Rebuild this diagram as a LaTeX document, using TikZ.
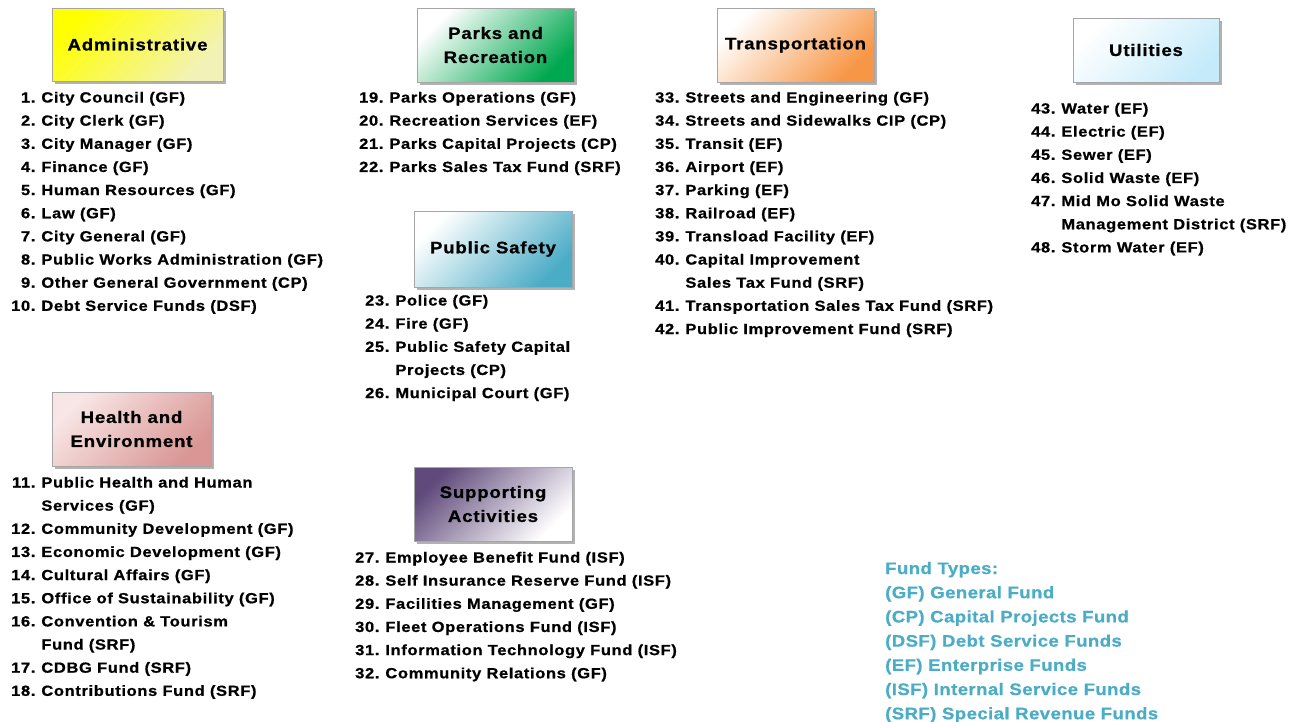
\documentclass[tikz,border=0pt]{standalone}
\usepackage{fontspec}
\setmainfont{Liberation Sans}
\newfontfamily\itemfam{Liberation Sans}[FakeStretch=1.12, LetterSpace=4.5, FakeBold=0.8]
\newfontfamily\hdrfam{Liberation Sans}[FakeStretch=1.12, LetterSpace=5, FakeBold=0.8]
\newfontfamily\fundfam{Liberation Sans}[FakeStretch=1.12, LetterSpace=2.5, FakeBold=0.6]
\usetikzlibrary{shadows}
\definecolor{bordergray}{HTML}{A6A6A6}
\definecolor{fundblue}{HTML}{4BACC6}
\definecolor{adminA}{HTML}{FFFF00}
\definecolor{adminB}{HTML}{F2F2B8}
\definecolor{parksB}{HTML}{00A84F}
\definecolor{transB}{HTML}{F79646}
\definecolor{utilB}{HTML}{C5EBFA}
\definecolor{safeB}{HTML}{4BACC6}
\definecolor{healthA}{HTML}{F8E6E6}
\definecolor{healthB}{HTML}{D99694}
\definecolor{suppA}{HTML}{604A7B}
\newcommand\itemfont{\itemfam\bfseries\fontsize{14.7}{23.15}\selectfont}
\newcommand\hdrfont{\hdrfam\bfseries\fontsize{16.6}{24}\selectfont}
\newcommand\fundfont{\fundfam\bfseries\fontsize{16.6}{24.2}\selectfont}
\newcommand\lst[1]{\begin{tabular}[t]{@{}r@{\hspace{6pt}}l@{}}#1\end{tabular}}
\tikzset{
  hdr/.style={draw=bordergray, line width=0.8pt, align=center, inner sep=0pt,
    font=\hdrfont, text=black,
    drop shadow={shadow xshift=3pt, shadow yshift=-3pt, fill=black, opacity=0.3}},
  grad/.style 2 args={top color=#1, bottom color=#2, shading angle=45},
  listnode/.style={anchor=base west, inner sep=0pt, font=\itemfont, text=black},
}
\begin{document}
\begin{tikzpicture}[x=1pt,y=-1pt]
\useasboundingbox[fill=white] (0,0) rectangle (1301,721);

% headers
\node[hdr, grad={adminA}{adminB}, minimum width=171pt, minimum height=73pt] (admin) at (137.5,44.5) {Administrative};
\node[hdr, grad={white}{parksB}, minimum width=157pt, minimum height=74pt] (parks) at (495.5,45) {Parks and\\Recreation};
\node[hdr, grad={white}{transB}, minimum width=157pt, minimum height=74pt] (trans) at (795.5,45) {Transportation};
\node[hdr, grad={white}{utilB}, minimum width=146pt, minimum height=64pt] (util) at (1146,50) {Utilities};
\node[hdr, grad={white}{safeB}, minimum width=158pt, minimum height=76pt] (safety) at (493,249) {Public Safety};
\node[hdr, grad={healthA}{healthB}, minimum width=159pt, minimum height=74pt] (health) at (131.5,429) {Health and\\Environment};
\node[hdr, grad={suppA}{white}, minimum width=158pt, minimum height=74pt] (supp) at (493,504) {Supporting\\Activities};

% lists
\node[listnode] (adminlist) at (11,102.5) {\lst{
1. & City Council (GF)\\
2. & City Clerk (GF)\\
3. & City Manager (GF)\\
4. & Finance (GF)\\
5. & Human Resources (GF)\\
6. & Law (GF)\\
7. & City General (GF)\\
8. & Public Works Administration (GF)\\
9. & Other General Government (CP)\\
10. & Debt Service Funds (DSF)}};

\node[listnode] (healthlist) at (11,487.5) {\lst{
11. & Public Health and Human\\
 & Services (GF)\\
12. & Community Development (GF)\\
13. & Economic Development (GF)\\
14. & Cultural Affairs (GF)\\
15. & Office of Sustainability (GF)\\
16. & Convention \& Tourism\\
 & Fund (SRF)\\
17. & CDBG Fund (SRF)\\
18. & Contributions Fund (SRF)}};

\node[listnode] (parkslist) at (359,102.5) {\lst{
19. & Parks Operations (GF)\\
20. & Recreation Services (EF)\\
21. & Parks Capital Projects (CP)\\
22. & Parks Sales Tax Fund (SRF)}};

\node[listnode] (safetylist) at (365,305.5) {\lst{
23. & Police (GF)\\
24. & Fire (GF)\\
25. & Public Safety Capital\\
 & Projects (CP)\\
26. & Municipal Court (GF)}};

\node[listnode] (supplist) at (355,562.5) {\lst{
27. & Employee Benefit Fund (ISF)\\
28. & Self Insurance Reserve Fund (ISF)\\
29. & Facilities Management (GF)\\
30. & Fleet Operations Fund (ISF)\\
31. & Information Technology Fund (ISF)\\
32. & Community Relations (GF)}};

\node[listnode] (translist) at (655,102.5) {\lst{
33. & Streets and Engineering (GF)\\
34. & Streets and Sidewalks CIP (CP)\\
35. & Transit (EF)\\
36. & Airport (EF)\\
37. & Parking (EF)\\
38. & Railroad (EF)\\
39. & Transload Facility (EF)\\
40. & Capital Improvement\\
 & Sales Tax Fund (SRF)\\
41. & Transportation Sales Tax Fund (SRF)\\
42. & Public Improvement Fund (SRF)}};

\node[listnode] (utillist) at (1031,113.5) {\lst{
43. & Water (EF)\\
44. & Electric (EF)\\
45. & Sewer (EF)\\
46. & Solid Waste (EF)\\
47. & Mid Mo Solid Waste\\
 & Management District (SRF)\\
48. & Storm Water (EF)}};

\node[anchor=base west, inner sep=0pt, font=\fundfont, text=fundblue] (funds) at (885,574) {\begin{tabular}[t]{@{}l@{}}
Fund Types:\\
(GF) General Fund\\
(CP) Capital Projects Fund\\
(DSF) Debt Service Funds\\
(EF) Enterprise Funds\\
(ISF) Internal Service Funds\\
(SRF) Special Revenue Funds\end{tabular}};
\end{tikzpicture}
\end{document}
